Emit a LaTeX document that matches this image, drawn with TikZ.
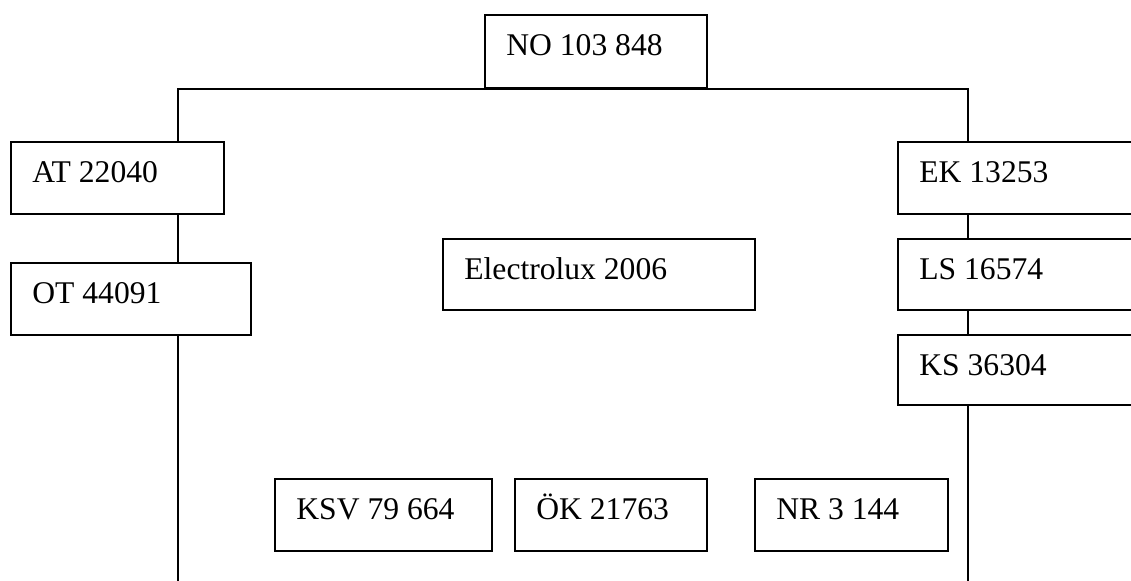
\documentclass[tikz,border=0pt]{standalone}
\usepackage{fontspec}
\setmainfont{Liberation Serif}
\usetikzlibrary{fit}
\tikzset{
  boxst/.style={draw=black, line width=1pt, inner sep=0pt, outer sep=0pt, fill=white},
  lbl/.style={anchor=base west, inner sep=0pt, font=\fontsize{15.8}{19}\selectfont},
  wire/.style={draw=black, line width=1pt}
}
\newcommand\mybox[6]{%
  \node[boxst, fit={(#2,#3) (#4,#5)}] (#1) {};
  \node[lbl] (#1-t) at ([xshift=10.5pt,yshift=-20.5pt]#1.north west) {#6};
}
\begin{document}
\begin{tikzpicture}[x=0.5pt, y=-0.5pt]
\clip (0,0) rectangle (1131,581);
\fill[white] (0,0) rectangle (1131,581);
\coordinate (tl) at (178,89);
\coordinate (tr) at (968,89);
\coordinate (bl) at (178,581);
\coordinate (br) at (968,581);
% trunk line first so boxes sit on it
\mybox{AT}{11}{142}{224}{214}{AT 22040}
\mybox{OT}{11}{263}{251}{335}{OT 44091}
\mybox{EK}{898}{142}{1145}{214}{EK 13253}
\mybox{LS}{898}{239}{1145}{310}{LS 16574}
\mybox{KS}{898}{335}{1145}{405}{KS 36304}
\draw[wire] (tl |- AT.north) -- (tl) -- (tr) -- (tr |- EK.north);
\mybox{NO}{485}{15}{707}{88}{NO 103 848}
\draw[wire] (tl |- AT.south) -- (tl |- OT.north);
\draw[wire] (tl |- OT.south) -- (bl);
\draw[wire] (tr |- EK.south) -- (tr |- LS.north);
\draw[wire] (tr |- LS.south) -- (tr |- KS.north);
\draw[wire] (tr |- KS.south) -- (br);
\mybox{EL}{443}{239}{755}{310}{Electrolux 2006}
\mybox{KSV}{275}{479}{492}{551}{KSV 79 664}
\mybox{OK}{515}{479}{707}{551}{ÖK 21763}
\mybox{NR}{755}{479}{948}{551}{NR 3 144}
\end{tikzpicture}
\end{document}
